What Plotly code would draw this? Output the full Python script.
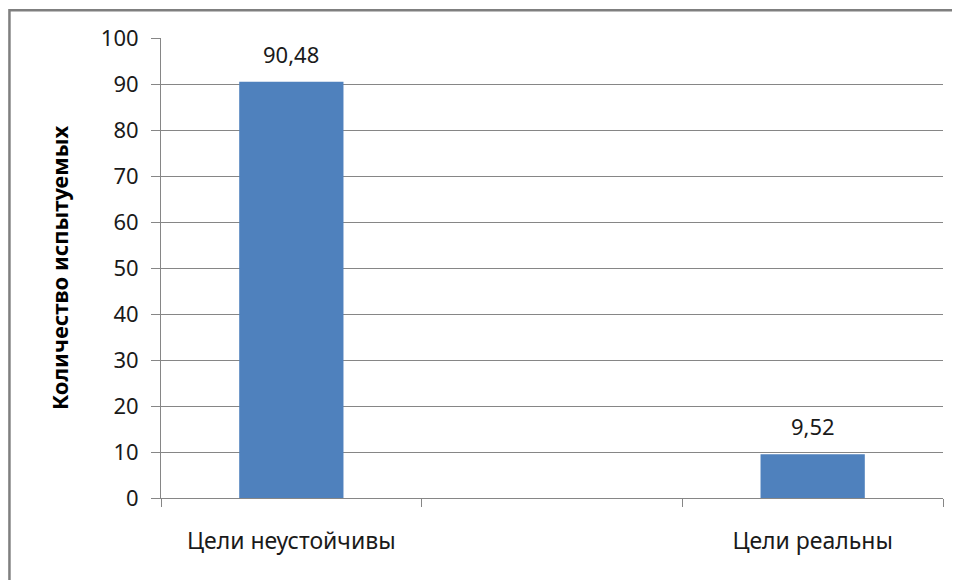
import plotly.graph_objects as go

categories = ["Цели неустойчивы", " ", "Цели реальны"]
values = [90.48, None, 9.52]
y_ticks = [0, 10, 20, 30, 40, 50, 60, 70, 80, 90, 100]
y_title = "Количество испытуемых"

bar_color = "#4F81BD"
grid_color = "#868686"
font_family = "Noto Sans, Open Sans, sans-serif"
txt_color = "#1a1a1a"

# page offset (body margin) compensation
OFF = 8
# desired plot area in page pixels
PX0, PX1, PY0, PY1 = 161, 942.7, 37.7, 497.7
L = PX0 - OFF
T = PY0 - OFF
R = 960 + OFF - PX1
B = 580 + OFF - PY1
W = PX1 - PX0
H = PY1 - PY0

def px(x):
    return (x - PX0) / W

def py(y):
    return (PY1 - y) / H

fig = go.Figure()
fig.add_trace(go.Bar(
    x=categories,
    y=values,
    marker=dict(color=bar_color, line=dict(width=0)),
    width=0.4,
    showlegend=False,
    hoverinfo="x+y",
))

for c, v in zip(categories, values):
    if v is None:
        continue
    fig.add_annotation(
        x=c, y=v, xref="x", yref="y",
        text=f"{v:.2f}".replace(".", ","),
        showarrow=False, yanchor="bottom", yshift=11,
        font=dict(family=font_family, size=22, color=txt_color),
    )

# outer border (top & left visible, right/bottom run off the canvas)
fig.add_shape(
    type="rect", xref="paper", yref="paper",
    x0=px(9.5), x1=px(958), y0=py(600), y1=py(10),
    line=dict(color="#7f7f7f", width=2.5), fillcolor="rgba(0,0,0,0)",
    layer="above",
)

fig.update_layout(
    width=960, height=580,
    margin=dict(l=L, r=R, t=T, b=B, pad=0),
    paper_bgcolor="white", plot_bgcolor="white",
    font=dict(family=font_family, size=23, color=txt_color),
    bargap=0.6,
    xaxis=dict(
        type="category",
        categoryorder="array", categoryarray=categories,
        tickson="boundaries",
        ticks="outside", ticklen=8, tickcolor=grid_color, tickwidth=1,
        showline=True, linecolor=grid_color, linewidth=1,
        showgrid=False, zeroline=False,
        ticklabelstandoff=22,
        tickfont=dict(family=font_family, size=23, color=txt_color),
        fixedrange=True,
    ),
    yaxis=dict(
        range=[0, 100],
        tickvals=y_ticks,
        ticks="outside", ticklen=9, tickcolor=grid_color, tickwidth=1,
        showline=True, linecolor=grid_color, linewidth=1,
        showgrid=True, gridcolor=grid_color, gridwidth=1,
        zeroline=False,
        ticklabelstandoff=8,
        tickfont=dict(family=font_family, size=22, color=txt_color),
        title=dict(text=y_title, standoff=26,
                   font=dict(family=font_family, size=22, color="#000000", weight="bold")),
        fixedrange=True,
    ),
)

fig.write_html("out.html")
